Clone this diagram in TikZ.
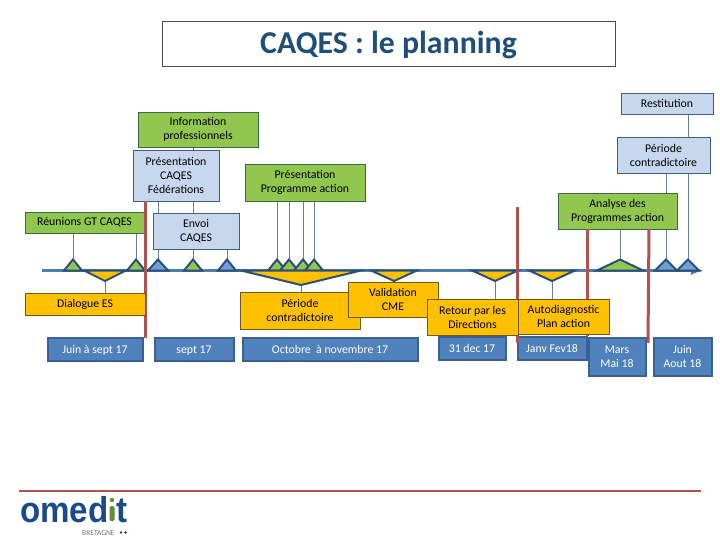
\documentclass[tikz,border=0pt]{standalone}
\usepackage{fontspec}
\setmainfont{Carlito}
\newfontfamily\logofont[FakeStretch=0.92]{Liberation Sans}
\usetikzlibrary{backgrounds}
\definecolor{boxgreen}{HTML}{92C74F}
\definecolor{greenline}{HTML}{3C6A48}
\definecolor{boxblue}{HTML}{C6D7EE}
\definecolor{blueline}{HTML}{3D6080}
\definecolor{boxorange}{HTML}{FFC000}
\definecolor{orangeline}{HTML}{6E5A1C}
\definecolor{datefill}{HTML}{4F81BD}
\definecolor{dateline}{HTML}{3A6096}
\definecolor{triline}{HTML}{2C4F78}
\definecolor{tlblue}{HTML}{6FA0DC}
\definecolor{axisblue}{HTML}{4F7DAC}
\definecolor{stemblue}{HTML}{668296}
\definecolor{redline}{HTML}{B0534F}
\definecolor{titleblue}{HTML}{1F4E79}
\definecolor{logoblue}{HTML}{1B4A8A}
\tikzset{
  label box/.style={draw,line width=0.9pt,align=center,inner sep=0pt,font=\fontsize{11.8}{14}\selectfont},
  greenbox/.style={label box,draw=greenline,fill=boxgreen},
  bluebox/.style={label box,draw=blueline,fill=boxblue},
  orangebox/.style={label box,draw=orangeline,fill=boxorange},
  datebox/.style={label box,draw=dateline,line width=2pt,fill=datefill,text=white},
  dateline one/.style={datebox,text height=9.5pt,text depth=1pt},
  stem/.style={draw=stemblue,line width=0.9pt},
  jalon/.style={draw=triline,line width=2pt,line join=miter},
  redbar/.style={draw=redline,line width=3pt},
}
\begin{document}
\begin{tikzpicture}[x=1pt,y=-1pt]
  \useasboundingbox (0,0) rectangle (720,540);
  % titre
  \node[draw=black!70,line width=0.6pt,minimum width=453pt,minimum height=45pt,inner sep=0pt,text height=21pt,text depth=0pt,text=titleblue,font=\fontsize{31.8}{34}\selectfont\bfseries] (title) at (388.5,43.5) {CAQES : le planning};
  % au dessus de l'axe
  \node[greenbox,minimum width=120pt,minimum height=35pt] (info) at (198,129.5) {Information\\professionnels};
  \node[bluebox,minimum width=86pt,minimum height=51pt] (fede) at (176,175.5) {Présentation\\CAQES\\Fédérations};
  \node[greenbox,minimum width=120pt,minimum height=37pt] (prog) at (305,182.5) {Présentation\\Programme action};
  \node[greenbox,minimum width=119pt,minimum height=21pt] (gt) at (84.5,222.5) {Réunions GT CAQES};
  \node[bluebox,minimum width=86pt,minimum height=36pt] (envoi) at (196,231) {Envoi\\CAQES};
  \node[bluebox,minimum width=92pt,minimum height=21pt] (resti) at (667,103.5) {Restitution};
  \node[bluebox,minimum width=93pt,minimum height=36pt] (contraup) at (663.5,155) {Période\\contradictoire};
  \node[greenbox,minimum width=119pt,minimum height=36pt] (analyse) at (617.5,211) {Analyse des\\Programmes action};
  % dates
  \node[dateline one,minimum width=95pt,minimum height=23pt] (d1) at (95,349) {Juin à sept 17};
  \node[dateline one,minimum width=79pt,minimum height=23pt] (d2) at (194,349) {sept 17};
  \node[dateline one,minimum width=175pt,minimum height=23pt] (d3) at (330,349) {Octobre\ \ à novembre 17};
  \node[dateline one,minimum width=67pt,minimum height=23pt] (d4) at (472,348.5) {31 dec 17};
  \node[dateline one,minimum width=69pt,minimum height=23pt] (d5) at (552,348.5) {Janv Fev18};
  \node[datebox,minimum width=57pt,minimum height=38pt] (d6) at (617,356.5) {Mars\\Mai 18};
  \node[datebox,minimum width=58pt,minimum height=38pt] (d7) at (682.5,356.5) {Juin\\Aout 18};
  % axe
  \coordinate (axisstart) at (42,270.5);
  \coordinate (axisend) at (703,270.5);
  \draw[axisblue,line width=3pt,-latex] (axisstart) -- (axisend);
  % jalons du haut
  \foreach \tx/\tw/\tname/\tcol in {73/9/ta/boxgreen,136/9/tb/boxgreen,158/10/tc/tlblue,193/9/td/boxgreen,227/9/te/tlblue,277/9/tf/boxgreen,289/9/tg/boxgreen,303/9/th/boxgreen,314/9/ti/boxgreen,620/23/tj/boxgreen,666/11/tk/tlblue,688/11/tl/tlblue}{
    \coordinate (\tname) at (\tx,259.5);
    \draw[jalon,fill=\tcol] (\tx-\tw,270.5) -- (\tname) -- (\tx+\tw,270.5) -- cycle;
  }
  % jalons du bas
  \foreach \tx/\tw/\ty/\tname in {105/21/281/va,301/60/285/vb,394/23/281/vc,495/23/281/vd,552/23/281/ve}{
    \coordinate (\tname) at (\tx,\ty);
    \draw[jalon,fill=boxorange] (\tx-\tw,270.5) -- (\tname) -- (\tx+\tw,270.5) -- cycle;
  }
  \begin{scope}[on background layer]
    \draw[stem] (gt.south -| ta) -- (ta);
    \draw[stem] (gt.south -| tb) -- (tb);
    \draw[stem] (fede.south -| tc) -- (tc);
    \draw[stem] (info.south -| td) -- (td);
    \draw[stem] (envoi.south -| te) -- (te);
    \draw[stem] (prog.south -| tf) -- (tf);
    \draw[stem] (prog.south -| tg) -- (tg);
    \draw[stem] (prog.south -| th) -- (th);
    \draw[stem] (prog.south -| ti) -- (ti);
    \draw[stem] (analyse.south -| tj) -- (tj);
    \draw[stem] (contraup.south -| tk) -- (tk);
    \draw[stem] (resti.south -| tl) -- (tl);
  \end{scope}
  % barres rouges
  \coordinate (barA) at (145,338);
  \coordinate (barB) at (517,207);
  \coordinate (barBb) at (517,343);
  \coordinate (barC) at (587,229);
  \coordinate (barCb) at (587,336);
  \coordinate (barD) at (649,229);
  \coordinate (barDb) at (648,343);
  \draw[redbar] (fede.south -| barA) -- (barA);
  \draw[redbar] (barB) -- (barBb);
  \draw[redbar] (barC) -- (barCb);
  \draw[redbar] (barD) -- (barDb);
  % sous l'axe
  \node[orangebox,minimum width=120pt,minimum height=22pt] (dial) at (85,304) {Dialogue ES};
  \node[orangebox,minimum width=120pt,minimum height=37pt] (contra) at (300,310.5) {Période\\contradictoire};
  \node[orangebox,minimum width=90pt,minimum height=35pt] (valid) at (393,299.5) {Validation\\CME};
  \node[orangebox,minimum width=91pt,minimum height=36pt] (retour) at (472.5,317) {Retour par les\\Directions};
  \node[orangebox,minimum width=91pt,minimum height=35pt] (auto) at (563.5,316.5) {Autodiagnostic\\Plan action};
  \begin{scope}[on background layer]
    \draw[stem] (dial.north -| va) -- (va);
    \draw[stem] (contra.north -| vb) -- (vb);
    \draw[stem] (valid.north -| vc) -- (vc);
    \draw[stem] (retour.north -| vd) -- (vd);
    \draw[stem] (auto.north -| ve) -- (ve);
  \end{scope}
  % bas de page
  \coordinate (ruleleft) at (19,491);
  \coordinate (ruleright) at (701,491);
  \draw[redline,line width=1.6pt] (ruleleft) -- (ruleright);
  \node[anchor=base west,inner sep=0pt,text=logoblue,font=\logofont\bfseries\fontsize{36}{36}\selectfont] (logoa) at (20,522) {omed};
  \node[anchor=base east,inner sep=0pt,text=logoblue,font=\logofont\bfseries\fontsize{36}{36}\selectfont] (logob) at (128,522) {t};
  \fill[boxgreen!70!black,rounded corners=1.5pt] (109.5,506) rectangle (114.5,521);
  \fill[boxgreen!70!black] (112,500) circle (2.2pt);
  \node[anchor=base west,inner sep=0pt,text=black!55,font=\fontsize{7.5}{8}\selectfont] (logoc) at (82,535) {BRETAGNE};
  \fill[logoblue] (121,532.5) circle (1.3pt);
  \fill[red!70!black] (125.5,532.5) circle (1.3pt);
\end{tikzpicture}
\end{document}
